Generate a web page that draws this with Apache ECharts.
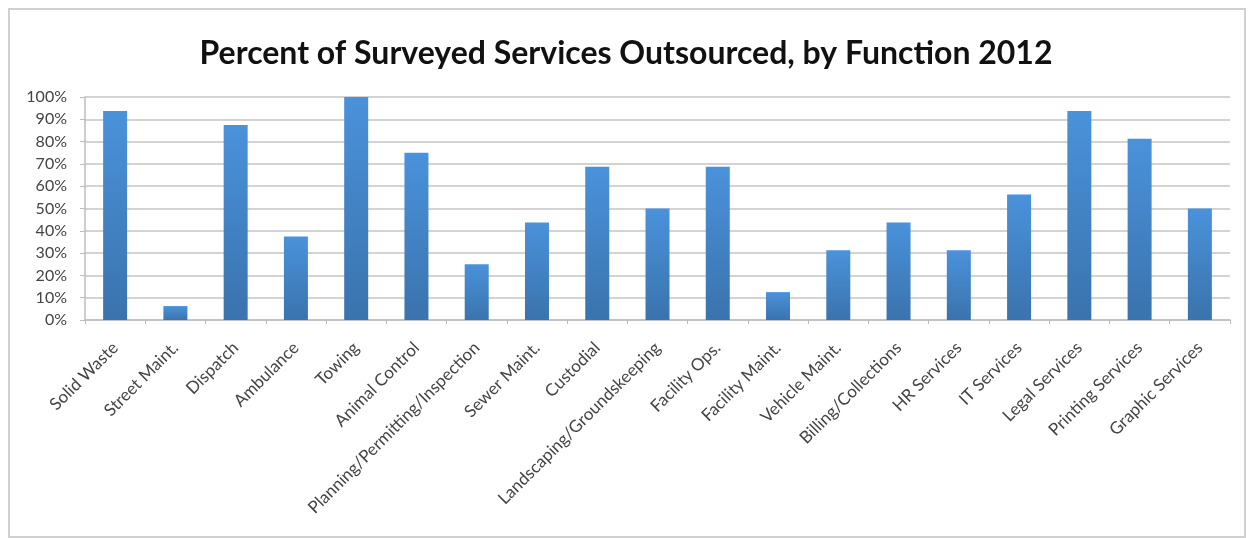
<!DOCTYPE html>
<html>
<head>
<meta charset="utf-8">
<script src="https://cdn.jsdelivr.net/npm/echarts@6/dist/echarts.min.js"></script>
<style>
html,body{margin:0;padding:0;background:#fff;}
#frame{position:absolute;left:8px;top:8px;width:1238px;height:530px;border:2px solid #d0d0d0;box-sizing:border-box;}
#chart{position:absolute;left:0;top:0;width:1252px;height:538px;}
</style>
</head>
<body>
<div id="frame"></div>
<div id="chart"></div>
<script>
const categories = ["Solid Waste","Street Maint.","Dispatch","Ambulance","Towing","Animal Control","Planning/Permitting/Inspection","Sewer Maint.","Custodial","Landscaping/Groundskeeping","Facility Ops.","Facility Maint.","Vehicle Maint.","Billing/Collections","HR Services","IT Services","Legal Services","Printing Services","Graphic Services"];
const percentOutsourced = [93.75,6.25,87.5,37.5,100,75,25,43.75,68.75,50,68.75,12.5,31.25,43.75,31.25,56.25,93.75,81.25,50];
const titleText = "Percent of Surveyed Services Outsourced, by Function 2012";

const chart = echarts.init(document.getElementById('chart'));
chart.setOption({
  animation:false,
  title:{text:titleText,left:'center',top:33,textStyle:{fontFamily:'Lato',fontWeight:'bold',fontSize:32,color:'#111'}},
  grid:{left:85,right:22,top:97,bottom:218},
  xAxis:{type:'category',data:categories,
    axisLine:{lineStyle:{color:'#bdbdbd',width:1.5}},
    axisTick:{show:true,length:4,lineStyle:{color:'#bdbdbd'}},
    axisLabel:{rotate:45,interval:0,fontFamily:'Lato',fontSize:17,color:'#444',margin:25}},
  yAxis:{type:'value',min:0,max:100,interval:10,
    axisLabel:{formatter:'{value}%',fontFamily:'Lato',fontSize:16,color:'#444',margin:18},
    axisLine:{show:true,lineStyle:{color:'#bdbdbd',width:1.5}},
    axisTick:{show:true,length:5,inside:false,lineStyle:{color:'#bdbdbd'}},
    splitLine:{lineStyle:{color:'#c4c4c4',width:1.5}}},
  series:[{type:'bar',data:percentOutsourced,barWidth:24,
    itemStyle:{color:new echarts.graphic.LinearGradient(0,0,0,1,[{offset:0,color:'#4a92db'},{offset:1,color:'#3a73ad'}])}}]
});
</script>
</body>
</html>
